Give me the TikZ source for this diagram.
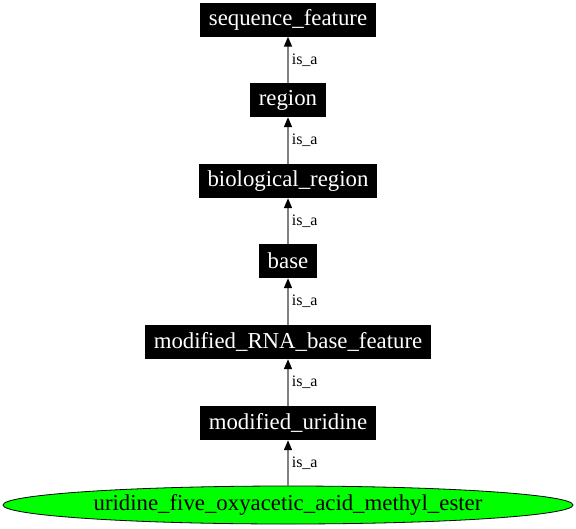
\documentclass[tikz,border=0pt]{standalone}
\usepackage{fontspec}
\setmainfont{Liberation Serif}
\usetikzlibrary{arrows.meta,shapes.geometric}
\tikzset{
  term/.style={fill=black, text=white, inner xsep=9pt, inner ysep=0pt, minimum height=34pt, font=\fontsize{22.8}{27}\selectfont},
  leaf/.style={ellipse, draw=black, line width=0.8pt, fill={rgb,255:red,0;green,255;blue,0}, minimum width=570pt, minimum height=38pt, inner sep=0pt, font=\fontsize{22.8}{27}\selectfont},
  isa/.style={draw={rgb,255:red,128;green,128;blue,128}, line width=1.6pt, -{Triangle[width=8pt,length=10pt,color=black]}},
  lbl/.style={font=\fontsize{16}{19}\selectfont, anchor=west, inner sep=0pt, xshift=3pt}
}
\begin{document}
\begin{tikzpicture}[x=1pt,y=-1pt]
\useasboundingbox (0,0) rectangle (576,528);
\node[term] (sf) at (288,19.5) {sequence\_feature};
\node[term] (rg) at (288,100) {region};
\node[term] (br) at (288,181) {biological\_region};
\node[term] (bs) at (288,261) {base};
\node[term] (mr) at (288,342) {modified\_RNA\_base\_feature};
\node[term] (mu) at (288,423) {modified\_uridine};
\node[leaf] (ue) at (288,505) {uridine\_five\_oxyacetic\_acid\_methyl\_ester};
\draw[isa] (rg.north) -- node[lbl]{is\_a} (sf.south);
\draw[isa] (br.north) -- node[lbl]{is\_a} (rg.south);
\draw[isa] (bs.north) -- node[lbl]{is\_a} (br.south);
\draw[isa] (mr.north) -- node[lbl]{is\_a} (bs.south);
\draw[isa] (mu.north) -- node[lbl]{is\_a} (mr.south);
\draw[isa] (ue.north) -- node[lbl]{is\_a} (mu.south);
\end{tikzpicture}
\end{document}
